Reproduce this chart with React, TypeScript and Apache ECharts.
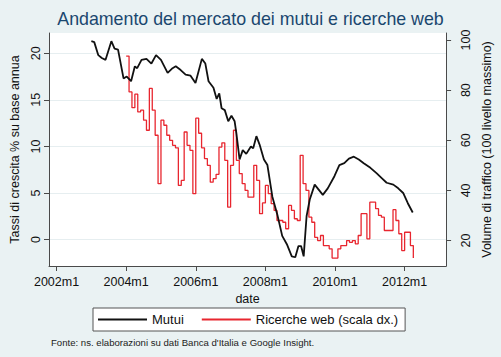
import React, { useEffect, useRef } from 'react';
import * as echarts from 'echarts';

const titleText = 'Andamento del mercato dei mutui e ricerche web';
const footerText = "Fonte: ns. elaborazioni su dati Banca d'Italia e Google Insight.";
const leftAxisName = 'Tassi di crescita % su base annua';
const rightAxisName = 'Volume di traffico (100 livello massimo)';
const xAxisName = 'date';
const seriesNames = ['Mutui', 'Ricerche web (scala dx.)'];

// x positions are months since 2002m1
const xTickMonths = [0, 24, 48, 72, 96, 120];
const leftTicks = [0, 5, 10, 15, 20];
const rightTicks = [20, 40, 60, 80, 100];

// Mutui: read vertices (month index, % growth)
const mutuiMonths = [12, 13, 14.4, 15.6, 16.9, 18.9, 20, 21.2, 23.1, 24.2, 25.7, 27, 27.8, 29.3, 31, 32.7, 34.3, 36, 38.3, 40, 41.1, 42.8, 44.5, 46.2, 47.9, 50.1, 51.3, 52.4, 54.1, 55.2, 56.1, 56.9, 58, 59.2, 60.3, 61.4, 62, 63.1, 64.2, 65.4, 67, 67.8, 68.9, 70, 71.5, 72.7, 74.4, 76.1, 77.8, 79.4, 81.1, 82.3, 83.4, 84.3, 85.2, 86.2, 87.3, 89, 91.8, 93.5, 95.8, 97.5, 99.2, 100.8, 102.5, 104.2, 105.9, 108.2, 110.4, 112.1, 113.8, 116.1, 117.8, 119.5, 121.1, 122.8];
const mutuiValues = [21.3, 21.2, 19.8, 19.5, 19.3, 21.3, 20.5, 20.4, 17.3, 17.5, 17.0, 18.6, 18.4, 19.3, 19.4, 18.9, 19.8, 19.3, 17.9, 18.4, 18.6, 18.2, 17.7, 17.6, 16.8, 19.4, 18.9, 17.0, 16.3, 15.1, 15.7, 14.1, 13.9, 12.7, 13.3, 12.7, 11.4, 8.6, 9.6, 9.2, 10.0, 9.8, 11.1, 10.2, 8.6, 8.0, 4.6, 2.7, 0.4, -0.5, -1.8, -1.9, -0.7, -0.7, -1.8, 2.5, 4.3, 5.9, 4.8, 5.5, 6.8, 8.0, 8.2, 8.7, 8.9, 8.6, 8.2, 7.7, 7.1, 6.6, 6.1, 5.9, 5.5, 5.0, 3.9, 2.9];

// Ricerche web: monthly, starting 2004m1 (month index 24)
const ricercheStartMonth = 24;
const ricercheValues = [
  93.6, 79.3, 73, 78.4, 71.3, 72, 68, 64, 80.7, 72, 62, 42.7,
  68, 66, 62, 60, 58, 57, 42, 44, 63.3, 58, 56, 38.7,
  68.8, 62.8, 57, 52.7, 50, 43.3, 44.7, 46.4, 57.3, 59, 52, 33.3,
  50, 64, 52, 46.7, 42.7, 40, 37.3, 37.3, 50, 44, 30.7, 35,
  42, 38.7, 34.7, 32, 28, 28, 27.3, 24.7, 34, 32, 28.7, 28,
  54, 42.7, 40, 29.3, 27.3, 21.3, 20, 22, 18, 18, 16.7, 13,
  13, 16.7, 18, 18, 20, 19.3, 20, 18.7, 22, 30.7, 30.7, 20.7,
  35.3, 35.3, 32.7, 30, 29.3, 24, 24, 24, 32.3, 28, 22.7, 16,
  23.3, 23.3, 18, 13,
];

const FONT = 'Liberation Sans, Arial, sans-serif';
const AXIS_COLOR = '#4a4a4a';

function monthLabel(t: number): string {
  const y = 2002 + Math.floor(t / 12);
  const m = (t % 12) + 1;
  return `${y}m${m}`;
}

export default function App() {
  const ref = useRef<HTMLDivElement>(null);
  useEffect(() => {
    if (!ref.current) return;
    const chart = echarts.init(ref.current, null, { renderer: 'svg' });
    const mutuiData = mutuiMonths.map((m, i) => [m, mutuiValues[i]]);
    const ricercheData = ricercheValues.map((v, i) => [ricercheStartMonth + i, v]);
    const labelStyle = { fontFamily: FONT, fontSize: 12.5, color: '#111' };
    chart.setOption({
      animation: false,
      backgroundColor: '#eaf2f3',
      textStyle: { fontFamily: FONT },
      title: {
        text: titleText,
        left: 'center',
        top: 5,
        textStyle: { fontFamily: FONT, fontSize: 17.8, fontWeight: 'normal', color: '#1a476f' },
      },
      legend: {
        left: 93,
        top: 308,
        width: 314,
        height: 24,
        padding: [5, 7, 5, 5],
        backgroundColor: '#ffffff',
        borderColor: '#555',
        borderWidth: 1,
        icon: 'rect',
        itemWidth: 49,
        itemHeight: 2,
        itemGap: 18,
        textStyle: { fontFamily: FONT, fontSize: 13, color: '#111' },
        data: seriesNames,
      },
      grid: {
        left: 49,
        right: 47,
        top: 33,
        bottom: 91,
        show: true,
        backgroundColor: '#ffffff',
        borderWidth: 0,
      },
      xAxis: {
        type: 'value',
        min: -2.6,
        max: 134.3,
        name: xAxisName,
        nameLocation: 'middle',
        nameGap: 24,
        nameTextStyle: { ...labelStyle, verticalAlign: 'top' },
        axisLine: { show: true, onZero: false, lineStyle: { color: AXIS_COLOR, width: 1 } },
        axisTick: { show: true, length: 5, customValues: xTickMonths, lineStyle: { color: AXIS_COLOR } },
        axisLabel: { ...labelStyle, customValues: xTickMonths, margin: 9, formatter: (v: number) => monthLabel(v) },
        splitLine: { show: false },
      },
      yAxis: [
        {
          type: 'value',
          position: 'left',
          min: -2.84,
          max: 22.18,
          name: leftAxisName,
          nameLocation: 'middle',
          nameGap: 22,
          nameRotate: 90,
          nameTextStyle: { ...labelStyle },
          axisLine: { show: true, onZero: false, lineStyle: { color: AXIS_COLOR, width: 1 } },
          axisTick: { show: true, length: 5, customValues: leftTicks, lineStyle: { color: AXIS_COLOR } },
          axisLabel: { ...labelStyle, customValues: leftTicks, rotate: 90, margin: 7 },
          splitLine: { show: true, lineStyle: { color: '#e6eef0', width: 1 } },
        },
        {
          type: 'value',
          position: 'right',
          min: 9.84,
          max: 102.8,
          name: rightAxisName,
          nameLocation: 'middle',
          nameGap: 24,
          nameRotate: 90,
          nameTextStyle: { ...labelStyle },
          axisLine: { show: true, onZero: false, lineStyle: { color: AXIS_COLOR, width: 1 } },
          axisTick: { show: true, length: 5, customValues: rightTicks, lineStyle: { color: AXIS_COLOR } },
          axisLabel: { ...labelStyle, customValues: rightTicks, rotate: 90, margin: 13 },
          splitLine: { show: false },
        },
      ],
      series: [
        {
          name: seriesNames[0],
          type: 'line',
          yAxisIndex: 0,
          data: mutuiData,
          showSymbol: false,
          symbol: 'none',
          lineStyle: { color: '#111111', width: 1.8 },
          itemStyle: { color: '#111111' },
          z: 3,
        },
        {
          name: seriesNames[1],
          type: 'line',
          yAxisIndex: 1,
          step: 'end',
          data: ricercheData,
          showSymbol: false,
          symbol: 'none',
          lineStyle: { color: '#e8262f', width: 1.3 },
          itemStyle: { color: '#e8262f' },
          z: 2,
        },
      ],
      graphic: [
        {
          type: 'text',
          left: 51,
          top: 337,
          style: { text: footerText, fontFamily: FONT, fontSize: 9.6, fill: '#222' },
        },
      ],
    });
    return () => chart.dispose();
  }, []);
  return <div ref={ref} style={{ position: 'fixed', left: 0, top: 0, width: 501, height: 357 }} />;
}
